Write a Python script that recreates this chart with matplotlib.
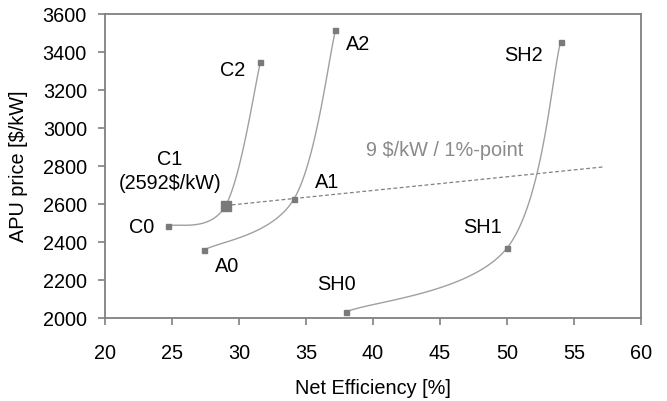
import numpy as np
import matplotlib
matplotlib.use("Agg")
import matplotlib.pyplot as plt

plt.rcParams['font.family'] = ['Liberation Sans', 'DejaVu Sans']

# Data
series_names = ["C", "A", "SH"]
c_eff = [24.7, 29.0, 31.6]
c_price = [2484, 2592, 3346]
a_eff = [27.4, 34.1, 37.2]
a_price = [2358, 2626, 3514]
sh_eff = [38.0, 50.0, 54.0]
sh_price = [2033, 2368, 3453]

trend_eff = [29.0, 57.3]
trend_price = [2592, 2796]

point_labels = ["C0", "C1\n(2592$/kW)", "C2", "A0", "A1", "A2", "SH0", "SH1", "SH2"]
label_x = [22.7, 24.85, 29.55, 29.1, 36.6, 38.9, 37.3, 48.2, 51.2]
label_y = [2475, 2770, 3302, 2270, 2711, 3437, 2174, 2477, 3379]

trend_label = "9 $/kW / 1%-point"
trend_label_xy = (45.35, 2879)

xticks = [20, 25, 30, 35, 40, 45, 50, 55, 60]
yticks = [2000, 2200, 2400, 2600, 2800, 3000, 3200, 3400, 3600]

FS = 14.3

fig = plt.figure(figsize=(6.67, 4.01), dpi=100)
ax = fig.add_axes([105/667, 1 - 318/401, (641-105)/667, (318-14)/401])
ax.set_xlim(20, 60)
ax.set_ylim(2000, 3600)

def smooth(xs, ys, n=60):
    pts = ax.transData.transform(np.column_stack([xs, ys]))
    P = np.vstack([pts[0], pts, pts[-1]])
    out = []
    for i in range(1, len(P) - 2):
        p0, p1, p2, p3 = P[i-1], P[i], P[i+1], P[i+2]
        c1 = p1 + (p2 - p0) / 6.0
        c2 = p2 - (p3 - p1) / 6.0
        t = np.linspace(0, 1, n)[:, None]
        b = ((1-t)**3) * p1 + 3*((1-t)**2)*t*c1 + 3*(1-t)*t**2*c2 + t**3*p2
        out.append(b)
    out = np.vstack(out)
    d = ax.transData.inverted().transform(out)
    return d[:, 0], d[:, 1]

line_col = "#a0a0a0"
mark_col = "#7a7a7a"

# trend line
ax.plot(trend_eff, trend_price, linestyle=(0, (3, 2)), color="#808080", lw=0.9, zorder=2)

for xs, ys in [(c_eff, c_price), (a_eff, a_price), (sh_eff, sh_price)]:
    sx, sy = smooth(xs, ys)
    ax.plot(sx, sy, color=line_col, lw=1.0, zorder=3)
    ax.plot(xs, ys, linestyle="none", marker="s", ms=3.6, color=mark_col, mec=mark_col, zorder=4)

# highlight C1
ax.plot([c_eff[1]], [c_price[1]], linestyle="none", marker="s", ms=7.5, color=mark_col, zorder=5)

for t, x, y in zip(point_labels, label_x, label_y):
    ax.text(x, y, t, ha="center", va="center", fontsize=FS, color="black", linespacing=1.3)

ax.text(trend_label_xy[0], trend_label_xy[1], trend_label, ha="center", va="center",
        fontsize=FS, color="#8a8a8a")

ax.set_xticks(xticks)
ax.set_yticks(yticks)
ax.tick_params(axis="both", direction="out", length=5, width=1.2, color="#808080",
               labelsize=FS, labelcolor="black")
ax.tick_params(axis="x", pad=14)
ax.tick_params(axis="y", pad=8)
for s in ax.spines.values():
    s.set_color("#808080")
    s.set_linewidth(1.3)

ax.set_xlabel("Net Efficiency [%]", fontsize=FS, va="center")
ax.xaxis.set_label_coords(0.5, (318 - 388) / 304)
ax.set_ylabel("APU price [$/kW]", fontsize=FS, va="center")
ax.yaxis.set_label_coords((19 - 105) / 536, 0.5)

fig.savefig("out.png", dpi=100)
